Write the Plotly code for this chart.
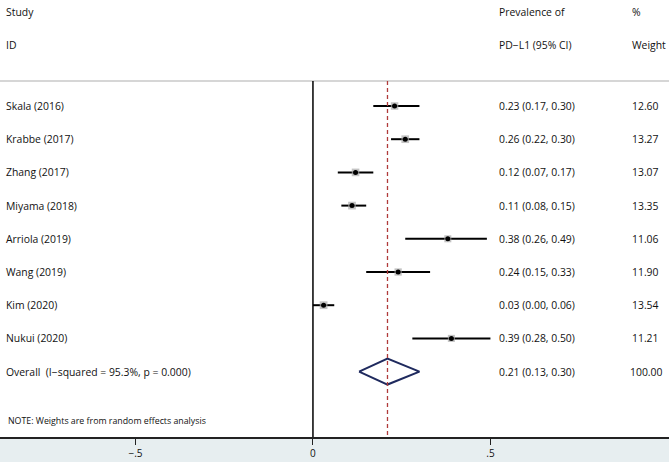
import plotly.graph_objects as go

studies = ["Skala (2016)", "Krabbe (2017)", "Zhang (2017)", "Miyama (2018)",
           "Arriola (2019)", "Wang (2019)", "Kim (2020)", "Nukui (2020)"]
est = [0.23, 0.26, 0.12, 0.11, 0.38, 0.24, 0.03, 0.39]
lo = [0.17, 0.22, 0.07, 0.08, 0.26, 0.15, 0.00, 0.28]
hi = [0.30, 0.30, 0.17, 0.15, 0.49, 0.33, 0.06, 0.50]
weights = [12.60, 13.27, 13.07, 13.35, 11.06, 11.90, 13.54, 11.21]

overall_label = "Overall  (I\u2212squared = 95.3%, p = 0.000)"
overall_est, overall_lo, overall_hi, overall_w = 0.21, 0.13, 0.30, 100.00

tick_vals = [-0.5, 0, 0.5]
tick_text = ["\u2212.5", "0", ".5"]

FONT = "Open Sans"
W, H = 669, 462
X_RANGE = [-0.8817, 1.0031]
Y_RANGE = [9.97, -3.193]

rows = list(range(len(studies)))
overall_row = len(studies)

fig = go.Figure()

# CIs + weight boxes
sizes = [7.6 * (w / 13.0) ** 0.5 for w in weights]
fig.add_trace(go.Scatter(
    x=est, y=rows, mode="markers",
    marker=dict(symbol="square", size=sizes, color="#aaaaaa", line=dict(width=0)),
    error_x=dict(type="data", symmetric=False,
                 array=[h - e for h, e in zip(hi, est)],
                 arrayminus=[e - l for e, l in zip(est, lo)],
                 color="black", thickness=2, width=0),
    hoverinfo="skip", showlegend=False))
fig.add_trace(go.Scatter(
    x=est, y=rows, mode="markers",
    marker=dict(symbol="circle", size=5, color="black"),
    hoverinfo="skip", showlegend=False))

# overall diamond
dh = 0.39
fig.add_trace(go.Scatter(
    x=[overall_lo, overall_est, overall_hi, overall_est, overall_lo],
    y=[overall_row, overall_row - dh, overall_row, overall_row + dh, overall_row],
    mode="lines", line=dict(color="#1f2a5e", width=2),
    hoverinfo="skip", showlegend=False))

shapes = [
    dict(type="line", xref="paper", x0=0, x1=1, yref="y", y0=-0.75, y1=-0.75,
         line=dict(color="#c8c8c8", width=1.5)),
    dict(type="line", xref="x", x0=0, x1=0, yref="y", y0=-0.75, y1=Y_RANGE[0],
         line=dict(color="black", width=1.5)),
    dict(type="line", xref="x", x0=overall_est, x1=overall_est, yref="y",
         y0=-0.75, y1=Y_RANGE[0],
         line=dict(color="#b03a3a", width=1.3, dash="4px,3px")),
]

ann = []
def txt(x, y, s, size=10.4):
    ann.append(dict(xref="paper", yref="y", x=x, y=y, text=s, showarrow=False,
                    xanchor="left", yanchor="middle",
                    font=dict(family=FONT, size=size, color="#111111")))

xs_lab = 4 / W
xs_val = 497 / W
xs_w = 630 / W

HEAD1, HEAD2 = -2.83, -1.83
txt(xs_lab, HEAD1, "Study")
txt(xs_lab, HEAD2, "ID")
txt(xs_val, HEAD1, "Prevalence of")
txt(xs_val, HEAD2, "PD\u2212L1 (95% CI)")
txt(xs_w, HEAD1, "%")
txt(xs_w, HEAD2, "Weight")

for i, s in enumerate(studies):
    txt(xs_lab, i, s)
    txt(xs_val, i, f"{est[i]:.2f} ({lo[i]:.2f}, {hi[i]:.2f})")
    txt(xs_w, i, f"{weights[i]:.2f}")

txt(xs_lab, overall_row, overall_label)
txt(xs_val, overall_row, f"{overall_est:.2f} ({overall_lo:.2f}, {overall_hi:.2f})")
txt(628 / W, overall_row, f"{overall_w:.2f}")

txt(6 / W, 9.49, "NOTE: Weights are from random effects analysis", size=8.8)

fig.update_layout(
    width=W, height=H,
    margin=dict(l=0, r=0, t=0, b=25),
    paper_bgcolor="#e7eef0",
    plot_bgcolor="white",
    shapes=shapes,
    annotations=ann,
    xaxis=dict(range=X_RANGE, showgrid=False, zeroline=False,
               tickvals=tick_vals, ticktext=tick_text,
               ticks="outside", ticklen=6, tickwidth=1.3, tickcolor="#222",
               showline=True, linecolor="#222", linewidth=1.6,
               tickfont=dict(family=FONT, size=10, color="#111")),
    yaxis=dict(range=Y_RANGE, showgrid=False, zeroline=False,
               showticklabels=False, showline=False),
    showlegend=False,
)

fig.write_html("out.html", config={"displayModeBar": False},
               post_script="document.body.style.margin='0';document.body.style.overflow='hidden';")
